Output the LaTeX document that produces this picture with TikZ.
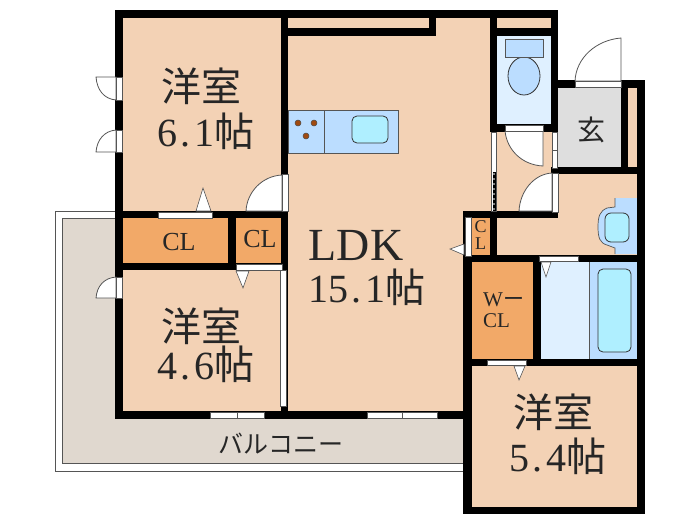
\documentclass[tikz,border=0pt]{standalone}
\usepackage{fontspec}
\setmainfont{Liberation Serif}
\newfontfamily\jpfont{Noto Sans CJK JP}
\newcommand{\dk}{\hspace{3.5pt}.\hspace{3.5pt}}
\definecolor{floorc}{HTML}{F3D2B5}
\definecolor{clc}{HTML}{F2A968}
\definecolor{balc}{HTML}{E0D8CF}
\definecolor{palew}{HTML}{DFF0FF}
\definecolor{bluew}{HTML}{BBDDFF}
\definecolor{cyanw}{HTML}{AFEFFF}
\definecolor{greyf}{HTML}{DEDEDE}
\definecolor{linec}{HTML}{555555}
\definecolor{burn}{HTML}{A04A10}
\tikzset{
  wall/.style={fill=black,draw=none},
  floorf/.style={fill=floorc,draw=none},
  opening/.style={fill=white,draw=linec,line width=0.7pt},
  swing/.style={fill=white,draw=linec,line width=0.8pt},
  tri/.style={fill=white,draw=linec,line width=0.6pt},
  fixture/.style={draw=black!80,line width=0.8pt},
  big/.style={font=\fontsize{40}{40}\selectfont,text=black!85,inner sep=0pt},
  huge/.style={font=\fontsize{46}{46}\selectfont,text=black!85,inner sep=0pt},
  mid/.style={font=\fontsize{26}{26}\selectfont,text=black!85,inner sep=0pt},
  small/.style={font=\fontsize{18}{18}\selectfont,text=black!85,inner sep=0pt},
  wcl/.style={font=\fontsize{21}{21}\selectfont,text=black!85,inner sep=0pt}
}
\begin{document}
\begin{tikzpicture}[x=1pt,y=-1pt]
\useasboundingbox (0,0) rectangle (700,525);
% balcony
\draw[linec,line width=0.8pt,fill=white] (55,211) rectangle (464,471);
\draw[linec,line width=0.8pt,fill=balc] (62,218) rectangle (464,463);
% floors
\fill[floorf] (115,10) rectangle (558,419);
\fill[floorf] (464,211) rectangle (645,514);
\fill[floorf] (558,80) rectangle (645,211);
% genkan
\fill[greyf] (558,88) rectangle (621,167);
% closets
\fill[clc] (123,218) rectangle (229,263);
\fill[clc] (236,218) rectangle (282,263);
\fill[clc] (472,218) rectangle (490,255);
\fill[clc] (472,262) rectangle (533,359);
% toilet
\fill[palew] (497,36) rectangle (551,124);
% bath
\fill[palew] (541,262) rectangle (589,359);
\fill[bluew] (589,262) rectangle (638,359);
\draw[linec,line width=0.6pt] (589,262) -- (589,359);
\draw[fixture,fill=cyanw,rounded corners=5pt] (598,269) rectangle (631,352);
% wash basin
\fill[bluew] (638,198) -- (615,198) -- (615,207) -- (607,208) .. controls (600,211) and (598,216) .. (598,227) .. controls (598,238) and (600,243) .. (607,245) -- (615,248) -- (615,254) -- (638,254) -- cycle;
\draw[linec,line width=0.7pt] (615,198) -- (615,207) -- (607,208) .. controls (600,211) and (598,216) .. (598,227) .. controls (598,238) and (600,243) .. (607,245) -- (615,248) -- (615,254);
\draw[fixture,fill=cyanw,rounded corners=6pt] (605,213) rectangle (629,242);
% kitchen
\draw[linec,line width=0.8pt,fill=bluew] (288,110) rectangle (398,153);
\draw[linec,line width=0.8pt] (324,110) -- (324,153);
\draw[fixture,fill=cyanw,rounded corners=5pt] (352,116) rectangle (388,143);
\foreach \p in {(298,123),(314,123),(306,136)} \fill[burn,draw=black!70,line width=0.5pt] \p circle (3);
% toilet fixture
\draw[fixture,fill=bluew] (524,76) ellipse (16 and 19);
\draw[linec,line width=0.8pt,fill=bluew] (505,39.5) rectangle (543,57);
% walls
\fill[wall] (115,10) rectangle (558,18);
\fill[wall] (115,10) rectangle (123,419);
\fill[wall] (115,411) rectangle (472,419);
\fill[wall] (281,14) rectangle (288,415);
\fill[wall] (285,28) rectangle (436,36);
\fill[wall] (429,14) rectangle (436,36);
\fill[wall] (490,14) rectangle (497,132);
\fill[wall] (494,28) rectangle (558,36);
\fill[wall] (551,14) rectangle (558,132);
\fill[wall] (490,124) rectangle (558,132);
\fill[wall] (558,80) rectangle (645,88);
\fill[wall] (621,84) rectangle (628,174);
\fill[wall] (637,80) rectangle (645,514);
\fill[wall] (551,167) rectangle (645,174);
\fill[wall] (463,211) rectangle (558,218);
\fill[wall] (463,211) rectangle (472,514);
\fill[wall] (490,211) rectangle (497,262);
\fill[wall] (463,255) rectangle (645,262);
\fill[wall] (533,255) rectangle (541,366);
\fill[wall] (463,359) rectangle (645,366);
\fill[wall] (463,507) rectangle (645,514);
\fill[wall] (115,211) rectangle (285,218);
\fill[wall] (228,211) rectangle (236,270);
\fill[wall] (115,263) rectangle (285,270);
% openings: windows
\draw[opening] (210,412.5) rectangle (237,418);
\draw[opening] (237,412.5) rectangle (264,418);
\draw[opening] (367,412.5) rectangle (402,418);
\draw[opening] (402,412.5) rectangle (437,418);
% sliding doors
\draw[opening] (280,270) rectangle (286,406);
\draw[opening] (491,132) rectangle (496,211);
\fill[black] (493,172) rectangle (496,211);
\foreach \i in {0,...,7} \fill[white] (494,174+\i*5) circle (0.9);
\draw[opening] (552,132) rectangle (557,150);
\draw[opening] (552,150) rectangle (557,168);
% swing doors
\draw[swing] (505,131) .. controls (507,150) and (522,165) .. (543,166) -- (543,131) -- cycle;
\draw[opening] (505,125) rectangle (543,131);
\draw[swing] (552,173) .. controls (534,174) and (520,191) .. (519,211) -- (552,211) -- cycle;
\draw[opening] (552,173) rectangle (558,212);
\draw[swing] (621,38) .. controls (596,40) and (576,58) .. (575,81) -- (621,81) -- cycle;
\draw[opening] (575,81) rectangle (621,87);
\draw[swing] (282,175) .. controls (262,176) and (247,192) .. (246,211) -- (282,211) -- cycle;
\draw[opening] (282,174) rectangle (288,211);
\draw[swing] (116,277) .. controls (104,278) and (97,286) .. (96,298) -- (116,298) -- cycle;
\draw[opening] (116,277) rectangle (122,298);
\draw[swing] (116,100) .. controls (104,99) and (97,90) .. (96,77) -- (116,77) -- cycle;
\draw[opening] (116,77) rectangle (122,100);
\draw[swing] (116,130) .. controls (104,131) and (97,140) .. (96,152) -- (116,152) -- cycle;
\draw[opening] (116,130) rectangle (122,152);
% other door strips
\draw[opening] (158,212) rectangle (212,218);
\draw[opening] (236,264) rectangle (282,270);
\draw[opening] (465,217) rectangle (471,256);
\draw[opening] (539,256) rectangle (578,261);
\draw[opening] (487,360) rectangle (526,365);
% triangles
\draw[tri] (203,188) -- (196,211) -- (211,211) -- cycle;
\draw[tri] (243,288) -- (236,271) -- (249,271) -- cycle;
\draw[tri] (450,249) -- (464,244) -- (464,255) -- cycle;
\draw[tri] (546,277) -- (541,262) -- (551,262) -- cycle;
\draw[tri] (519,380) -- (514,366) -- (525,366) -- cycle;
% labels
\node[big] (r1a) at (201,86) {\jpfont 洋室};
\node[big] (r1b) at (206,131) {6\dk 1\jpfont 帖};
\node[big] (r2a) at (201,326) {\jpfont 洋室};
\node[big] (r2b) at (206,364) {4\dk 6\jpfont 帖};
\node[huge] (l1) at (356,245) {LDK};
\node[big] (l2) at (367,287) {15\dk 1\jpfont 帖};
\node[big] (r3a) at (553,412) {\jpfont 洋室};
\node[big] (r3b) at (558,456) {5\dk 4\jpfont 帖};
\node[font=\fontsize{28}{28}\selectfont\jpfont,text=black!85,inner sep=0pt] (gen) at (591,130) {玄};
\node[mid] (cl1) at (179,242) {CL};
\node[mid] (cl2) at (260,239) {CL};
\node[small] (c3) at (480.5,227) {C};
\node[small] (l3) at (480.5,244) {L};
\node[wcl,anchor=west] (w1) at (483,300) {W\jpfont ー};
\node[wcl,anchor=west] (w2) at (483,321) {CL};
\node[font=\fontsize{25}{25}\selectfont\jpfont,text=black!85,inner sep=0pt] (bal) at (281,444) {バルコニー};
\end{tikzpicture}
\end{document}
